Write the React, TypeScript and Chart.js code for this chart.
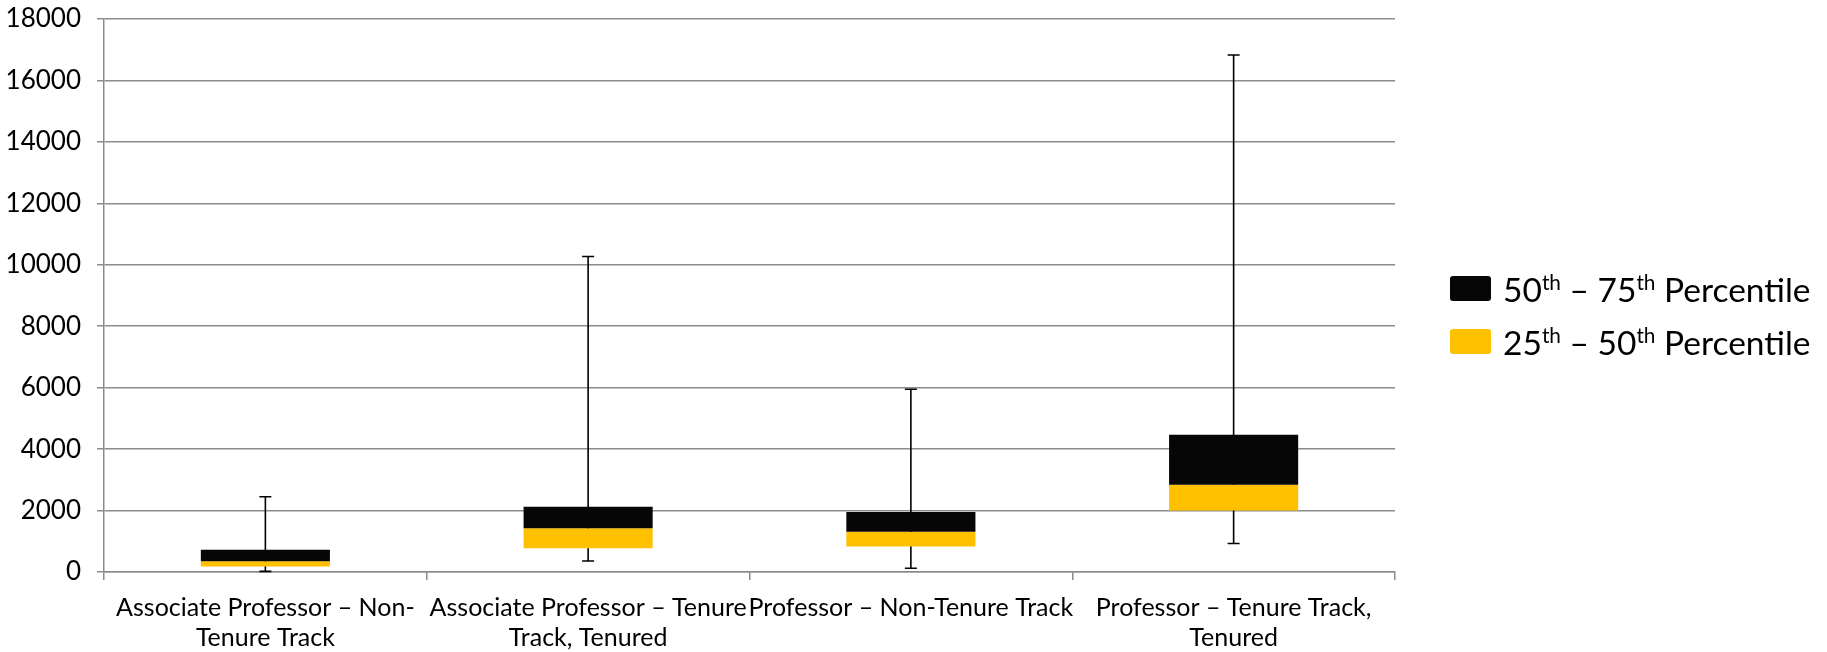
import React, { useEffect, useRef } from "react";
import { Chart, registerables } from "chart.js";

Chart.register(...registerables);

const categories: string[][] = [
  ["Associate Professor – Non-", "Tenure Track"],
  ["Associate Professor – Tenure", "Track, Tenured"],
  ["Professor – Non-Tenure Track"],
  ["Professor – Tenure Track,", "Tenured"],
];
const minValues = [20, 360, 120, 930];
const q1Values = [175, 776, 830, 2000];
const medianValues = [350, 1420, 1311, 2842];
const q3Values = [721, 2120, 1956, 4470];
const maxValues = [2450, 10270, 5950, 16830];
const yMin = 0;
const yMax = 18000;
const yStep = 2000;
const legendParts: [string, string][] = [
  ["50", "75"],
  ["25", "50"],
];
const seriesColors = ["#060606", "#FFC000"];

const FONT = "Lato, 'Open Sans', sans-serif";
const GRID = "#8c8c8c";

const whiskerPlugin = {
  id: "whiskers",
  beforeDatasetsDraw(chart: any) {
    const x = chart.scales.x;
    const y = chart.scales.y;
    const ctx = chart.ctx;
    ctx.save();
    ctx.strokeStyle = "#000";
    ctx.lineWidth = 1.6;
    for (let i = 0; i < categories.length; i++) {
      const px = x.getPixelForValue(i);
      const top = y.getPixelForValue(maxValues[i]);
      const bot = y.getPixelForValue(minValues[i]);
      ctx.beginPath();
      ctx.moveTo(px, top);
      ctx.lineTo(px, bot);
      ctx.moveTo(px - 6, top);
      ctx.lineTo(px + 6, top);
      ctx.moveTo(px - 6, bot);
      ctx.lineTo(px + 6, bot);
      ctx.stroke();
    }
    ctx.restore();
  },
};

export default function App() {
  const ref = useRef<HTMLCanvasElement | null>(null);
  useEffect(() => {
    if (!ref.current) return;
    const chart = new Chart(ref.current, {
      type: "bar",
      data: {
        labels: categories,
        datasets: [
          {
            label: "50th – 75th Percentile",
            data: categories.map((_, i) => [medianValues[i], q3Values[i]]) as any,
            backgroundColor: seriesColors[0],
            borderWidth: 0,
            grouped: false,
            categoryPercentage: 1,
            barPercentage: 0.4,
          } as any,
          {
            label: "25th – 50th Percentile",
            data: categories.map((_, i) => [q1Values[i], medianValues[i]]) as any,
            backgroundColor: seriesColors[1],
            borderWidth: 0,
            grouped: false,
            categoryPercentage: 1,
            barPercentage: 0.4,
          } as any,
        ],
      },
      options: {
        animation: false,
        responsive: true,
        maintainAspectRatio: false,
        layout: { padding: { top: 19, right: 432, left: 0, bottom: 0 } },
        plugins: {
          legend: { display: false },
          tooltip: { enabled: false },
        },
        scales: {
          x: {
            offset: true,
            grid: {
              drawOnChartArea: false,
              drawTicks: true,
              tickLength: 8,
              color: GRID,
              lineWidth: 1.5,
              offset: true,
            },
            border: { display: true, color: GRID, width: 1.5 },
            ticks: {
              maxRotation: 0,
              autoSkip: false,
              padding: 13,
              color: "#000",
              font: { family: FONT, size: 25 },
            },
            afterFit(scale: any) {
              scale.height = 80;
              scale.paddingLeft = 0;
              scale.paddingRight = 0;
            },
          },
          y: {
            min: yMin,
            max: yMax,
            ticks: {
              stepSize: yStep,
              padding: 16,
              color: "#000",
              font: { family: FONT, size: 26 },
              callback: (v: any) => String(v),
            },
            grid: { color: GRID, lineWidth: 1.5, tickLength: 7 },
            border: { display: true, color: GRID, width: 1.5 },
            afterFit(scale: any) {
              scale.width = 104;
              scale.paddingTop = 0;
              scale.paddingBottom = 0;
            },
          },
        },
      },
      plugins: [whiskerPlugin],
    });
    return () => chart.destroy();
  }, []);

  return (
    <div
      style={{
        position: "fixed",
        left: 0,
        top: 0,
        width: 1827,
        height: 652,
        background: "#fff",
      }}
    >
      <canvas ref={ref} />
      <div
        style={{
          position: "absolute",
          left: 1450,
          top: 262,
          fontFamily: FONT,
          fontSize: 33.5,
          color: "#000",
          whiteSpace: "nowrap",
        }}
      >
        {legendParts.map((p, i) => (
          <div
            key={i}
            style={{ display: "flex", alignItems: "center", height: 53 }}
          >
            <span
              style={{
                display: "inline-block",
                width: 41,
                height: 25,
                borderRadius: 3,
                background: seriesColors[i],
                marginRight: 12,
              }}
            />
            <span>
              {p[0]}
              <sup style={{ fontSize: "0.62em", lineHeight: 0 }}>th</sup> – {p[1]}
              <sup style={{ fontSize: "0.62em", lineHeight: 0 }}>th</sup> Percentile
            </span>
          </div>
        ))}
      </div>
    </div>
  );
}
